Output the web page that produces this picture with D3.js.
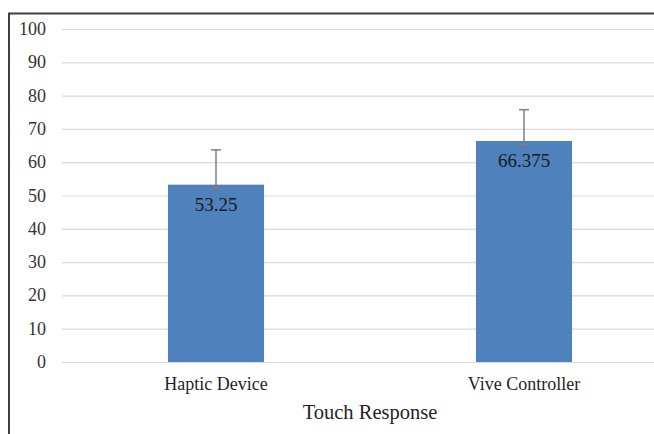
<!DOCTYPE html>
<html>
<head>
<meta charset="utf-8">
<script src="https://cdn.jsdelivr.net/npm/d3@7"></script>
<style>
  body { margin: 0; background: #fff; }
  svg text { font-family: 'Liberation Serif', 'Times New Roman', Times, serif; }
</style>
</head>
<body>
<div id="chart"></div>
<script>
const WIDTH = 654;
const HEIGHT = 434;

// data
const categories = ['Haptic Device', 'Vive Controller'];
const means = [53.25, 66.375];
const errPlus = [10.45, 9.4];
const errMinus = [1.2, 1.0];
const yTicks = [0, 10, 20, 30, 40, 50, 60, 70, 80, 90, 100];
const xTitle = 'Touch Response';

const FONT = "'Liberation Serif', 'Times New Roman', Times, serif";

const svg = d3.select('#chart').append('svg')
  .attr('width', WIDTH)
  .attr('height', HEIGHT)
  .attr('font-family', FONT);

const xScale = d3.scaleBand()
  .domain(categories)
  .range([62, 678])
  .paddingInner(0.688)
  .paddingOuter(0.344);

const yScale = d3.scaleLinear()
  .domain([0, 100])
  .range([362, 29]);

// frame (top + left edges visible)
svg.append('path')
  .attr('d', `M8,13.5 H${WIDTH} M9,13.5 V${HEIGHT}`)
  .attr('fill', 'none')
  .attr('stroke', '#3f3f3f')
  .attr('stroke-width', 2);

// gridlines
svg.append('g')
  .selectAll('line')
  .data(yTicks)
  .enter()
  .append('line')
  .attr('x1', 62)
  .attr('x2', WIDTH)
  .attr('y1', d => yScale(d) + 0.5)
  .attr('y2', d => yScale(d) + 0.5)
  .attr('stroke', '#d9d9d9')
  .attr('stroke-width', 1.2);

// y tick labels
svg.append('g')
  .selectAll('text')
  .data(yTicks)
  .enter()
  .append('text')
  .text(d => d)
  .attr('x', 46)
  .attr('y', d => yScale(d) + 6)
  .attr('text-anchor', 'end')
  .attr('font-family', FONT)
  .attr('font-size', 18)
  .attr('fill', '#333');

// bars
svg.append('g')
  .selectAll('rect')
  .data(means)
  .enter()
  .append('rect')
  .attr('x', (d, i) => xScale(categories[i]))
  .attr('y', d => yScale(d))
  .attr('width', xScale.bandwidth())
  .attr('height', d => yScale(0) - yScale(d))
  .attr('fill', '#4f81bd');

// error bars
const err = svg.append('g')
  .attr('stroke', '#7f7f7f')
  .attr('stroke-width', 1.5);

means.forEach((m, i) => {
  const cx = xScale(categories[i]) + xScale.bandwidth() / 2;
  const top = yScale(m + errPlus[i]);
  const bot = yScale(m - errMinus[i]);
  err.append('line').attr('x1', cx).attr('x2', cx).attr('y1', top).attr('y2', bot);
  err.append('line').attr('x1', cx - 5).attr('x2', cx + 5).attr('y1', top).attr('y2', top);
  err.append('line').attr('x1', cx - 5).attr('x2', cx + 5).attr('y1', bot).attr('y2', bot);
});

// data labels
svg.append('g')
  .selectAll('text')
  .data(means)
  .enter()
  .append('text')
  .text(d => d)
  .attr('x', (d, i) => xScale(categories[i]) + xScale.bandwidth() / 2)
  .attr('y', d => yScale(d) + 26)
  .attr('text-anchor', 'middle')
  .attr('font-family', FONT)
  .attr('font-size', 19)
  .attr('fill', '#1a1a1a');

// category labels
svg.append('g')
  .selectAll('text')
  .data(categories)
  .enter()
  .append('text')
  .text(d => d)
  .attr('x', d => xScale(d) + xScale.bandwidth() / 2)
  .attr('y', 390)
  .attr('text-anchor', 'middle')
  .attr('font-family', FONT)
  .attr('font-size', 18)
  .attr('fill', '#1f1f1f');

// axis title
svg.append('text')
  .text(xTitle)
  .attr('x', 370)
  .attr('y', 419)
  .attr('text-anchor', 'middle')
  .attr('font-family', FONT)
  .attr('font-size', 20.5)
  .attr('fill', '#1f1f1f');
</script>
</body>
</html>
